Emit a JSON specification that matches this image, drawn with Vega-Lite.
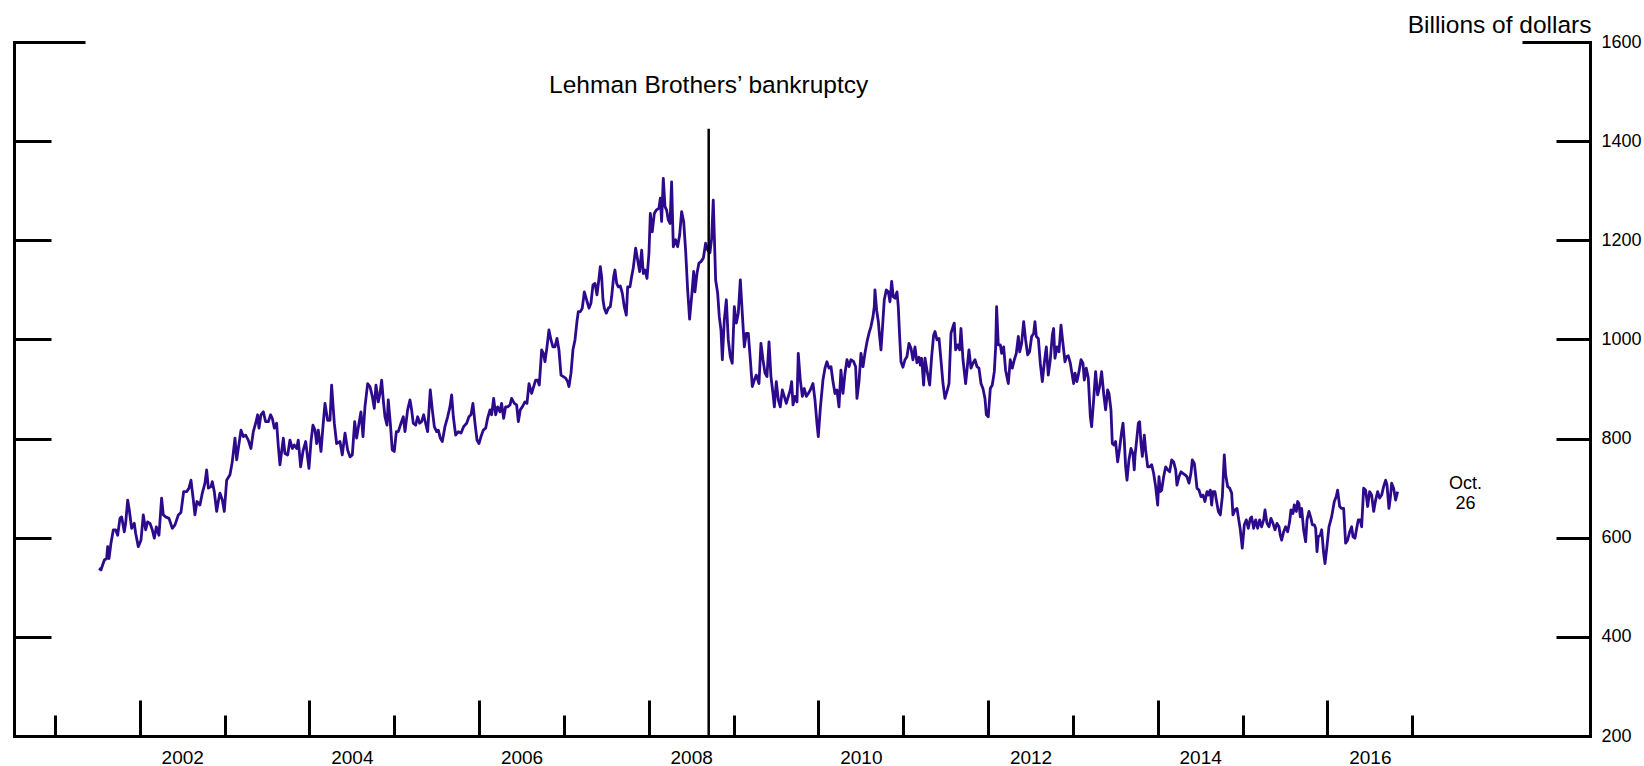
{
"$schema": "https://vega.github.io/schema/vega-lite/v6.json",
"width": 1576, "height": 694,
"autosize": {"type": "none"},
"padding": {"left": 14, "top": 42, "right": 54, "bottom": 30},
"background": "white",
"config": {"view": {"stroke": null}, "axis": {"grid": false}},
"datasets": {
"series": [
{"year":2001.519,"value":538},{"year":2001.542,"value":535},{"year":2001.582,"value":555},{"year":2001.609,"value":558},{"year":2001.621,"value":582},{"year":2001.637,"value":558},{"year":2001.660,"value":589},{"year":2001.688,"value":616},{"year":2001.715,"value":616},{"year":2001.739,"value":605},{"year":2001.766,"value":639},{"year":2001.786,"value":642},{"year":2001.817,"value":612},{"year":2001.833,"value":629},{"year":2001.857,"value":676},{"year":2001.876,"value":656},{"year":2001.904,"value":619},{"year":2001.935,"value":629},{"year":2001.951,"value":609},{"year":2001.982,"value":582},
{"year":2002.014,"value":595},{"year":2002.041,"value":646},{"year":2002.069,"value":616},{"year":2002.092,"value":632},{"year":2002.120,"value":629},{"year":2002.147,"value":616},{"year":2002.171,"value":599},{"year":2002.195,"value":622},{"year":2002.226,"value":605},{"year":2002.257,"value":680},{"year":2002.277,"value":646},{"year":2002.305,"value":642},{"year":2002.344,"value":639},{"year":2002.383,"value":619},{"year":2002.415,"value":626},{"year":2002.454,"value":646},{"year":2002.485,"value":651},{"year":2002.517,"value":693},{"year":2002.552,"value":693},{"year":2002.580,"value":700},{"year":2002.603,"value":716},{"year":2002.631,"value":676},{"year":2002.650,"value":646},{"year":2002.674,"value":673},{"year":2002.709,"value":666},{"year":2002.737,"value":690},{"year":2002.768,"value":710},{"year":2002.788,"value":737},{"year":2002.808,"value":700},{"year":2002.839,"value":703},{"year":2002.855,"value":713},{"year":2002.878,"value":693},{"year":2002.906,"value":653},{"year":2002.925,"value":673},{"year":2002.945,"value":690},{"year":2002.973,"value":676},{"year":2002.996,"value":653},
{"year":2003.024,"value":716},{"year":2003.063,"value":727},{"year":2003.090,"value":753},{"year":2003.122,"value":801},{"year":2003.142,"value":757},{"year":2003.161,"value":780},{"year":2003.193,"value":817},{"year":2003.220,"value":804},{"year":2003.248,"value":807},{"year":2003.279,"value":797},{"year":2003.310,"value":780},{"year":2003.338,"value":814},{"year":2003.366,"value":831},{"year":2003.389,"value":848},{"year":2003.405,"value":821},{"year":2003.428,"value":848},{"year":2003.456,"value":854},{"year":2003.483,"value":834},{"year":2003.515,"value":834},{"year":2003.542,"value":848},{"year":2003.562,"value":841},{"year":2003.586,"value":821},{"year":2003.613,"value":831},{"year":2003.633,"value":784},{"year":2003.652,"value":747},{"year":2003.672,"value":774},{"year":2003.692,"value":801},{"year":2003.711,"value":770},{"year":2003.743,"value":767},{"year":2003.770,"value":797},{"year":2003.798,"value":780},{"year":2003.821,"value":787},{"year":2003.849,"value":780},{"year":2003.868,"value":797},{"year":2003.896,"value":743},{"year":2003.923,"value":774},{"year":2003.955,"value":794},{"year":2003.994,"value":740},
{"year":2004.018,"value":794},{"year":2004.041,"value":827},{"year":2004.065,"value":817},{"year":2004.085,"value":790},{"year":2004.104,"value":817},{"year":2004.136,"value":774},{"year":2004.159,"value":824},{"year":2004.183,"value":871},{"year":2004.214,"value":837},{"year":2004.242,"value":837},{"year":2004.261,"value":908},{"year":2004.293,"value":831},{"year":2004.320,"value":790},{"year":2004.360,"value":794},{"year":2004.387,"value":767},{"year":2004.419,"value":811},{"year":2004.450,"value":777},{"year":2004.478,"value":763},{"year":2004.505,"value":767},{"year":2004.533,"value":834},{"year":2004.556,"value":801},{"year":2004.584,"value":831},{"year":2004.607,"value":854},{"year":2004.631,"value":804},{"year":2004.654,"value":864},{"year":2004.686,"value":911},{"year":2004.713,"value":905},{"year":2004.741,"value":885},{"year":2004.764,"value":861},{"year":2004.784,"value":908},{"year":2004.811,"value":874},{"year":2004.831,"value":891},{"year":2004.851,"value":918},{"year":2004.870,"value":878},{"year":2004.890,"value":844},{"year":2004.914,"value":827},{"year":2004.929,"value":878},{"year":2004.953,"value":831},{"year":2004.976,"value":777},
{"year":2005.000,"value":774},{"year":2005.024,"value":814},{"year":2005.047,"value":814},{"year":2005.079,"value":831},{"year":2005.106,"value":844},{"year":2005.126,"value":814},{"year":2005.157,"value":858},{"year":2005.185,"value":878},{"year":2005.204,"value":858},{"year":2005.224,"value":831},{"year":2005.252,"value":827},{"year":2005.275,"value":844},{"year":2005.299,"value":831},{"year":2005.322,"value":834},{"year":2005.346,"value":848},{"year":2005.369,"value":831},{"year":2005.393,"value":814},{"year":2005.424,"value":898},{"year":2005.448,"value":858},{"year":2005.472,"value":824},{"year":2005.499,"value":814},{"year":2005.519,"value":817},{"year":2005.542,"value":801},{"year":2005.566,"value":794},{"year":2005.597,"value":824},{"year":2005.629,"value":844},{"year":2005.656,"value":864},{"year":2005.676,"value":888},{"year":2005.696,"value":844},{"year":2005.723,"value":807},{"year":2005.755,"value":814},{"year":2005.786,"value":811},{"year":2005.817,"value":824},{"year":2005.853,"value":831},{"year":2005.880,"value":844},{"year":2005.904,"value":848},{"year":2005.927,"value":871},{"year":2005.951,"value":831},{"year":2005.975,"value":797},{"year":2005.998,"value":790},
{"year":2006.022,"value":804},{"year":2006.049,"value":817},{"year":2006.077,"value":821},{"year":2006.100,"value":841},{"year":2006.128,"value":858},{"year":2006.147,"value":848},{"year":2006.171,"value":881},{"year":2006.195,"value":848},{"year":2006.218,"value":864},{"year":2006.246,"value":854},{"year":2006.265,"value":871},{"year":2006.289,"value":841},{"year":2006.312,"value":864},{"year":2006.336,"value":864},{"year":2006.364,"value":868},{"year":2006.383,"value":881},{"year":2006.415,"value":871},{"year":2006.442,"value":868},{"year":2006.462,"value":834},{"year":2006.485,"value":858},{"year":2006.509,"value":864},{"year":2006.540,"value":874},{"year":2006.564,"value":871},{"year":2006.588,"value":911},{"year":2006.619,"value":891},{"year":2006.643,"value":905},{"year":2006.666,"value":918},{"year":2006.690,"value":918},{"year":2006.709,"value":908},{"year":2006.737,"value":979},{"year":2006.757,"value":972},{"year":2006.776,"value":955},{"year":2006.800,"value":985},{"year":2006.823,"value":1019},{"year":2006.847,"value":999},{"year":2006.870,"value":985},{"year":2006.894,"value":985},{"year":2006.918,"value":1002},{"year":2006.941,"value":979},{"year":2006.965,"value":928},{"year":2006.992,"value":925},
{"year":2007.020,"value":922},{"year":2007.043,"value":915},{"year":2007.059,"value":905},{"year":2007.083,"value":932},{"year":2007.106,"value":979},{"year":2007.130,"value":999},{"year":2007.153,"value":1036},{"year":2007.169,"value":1056},{"year":2007.193,"value":1056},{"year":2007.216,"value":1063},{"year":2007.240,"value":1096},{"year":2007.267,"value":1080},{"year":2007.295,"value":1063},{"year":2007.318,"value":1073},{"year":2007.342,"value":1110},{"year":2007.366,"value":1113},{"year":2007.389,"value":1090},{"year":2007.413,"value":1123},{"year":2007.428,"value":1147},{"year":2007.444,"value":1127},{"year":2007.460,"value":1080},{"year":2007.476,"value":1063},{"year":2007.499,"value":1053},{"year":2007.523,"value":1063},{"year":2007.546,"value":1066},{"year":2007.562,"value":1086},{"year":2007.586,"value":1127},{"year":2007.601,"value":1140},{"year":2007.621,"value":1113},{"year":2007.641,"value":1106},{"year":2007.664,"value":1108},{"year":2007.688,"value":1093},{"year":2007.711,"value":1066},{"year":2007.735,"value":1049},{"year":2007.751,"value":1106},{"year":2007.778,"value":1106},{"year":2007.798,"value":1127},{"year":2007.817,"value":1144},{"year":2007.845,"value":1184},{"year":2007.869,"value":1160},{"year":2007.892,"value":1137},{"year":2007.916,"value":1180},{"year":2007.935,"value":1133},{"year":2007.955,"value":1140},{"year":2007.979,"value":1123},
{"year":2008.002,"value":1174},{"year":2008.018,"value":1254},{"year":2008.041,"value":1217},{"year":2008.065,"value":1254},{"year":2008.089,"value":1261},{"year":2008.120,"value":1265},{"year":2008.136,"value":1285},{"year":2008.151,"value":1238},{"year":2008.171,"value":1325},{"year":2008.191,"value":1268},{"year":2008.210,"value":1261},{"year":2008.230,"value":1241},{"year":2008.250,"value":1234},{"year":2008.269,"value":1318},{"year":2008.289,"value":1187},{"year":2008.316,"value":1201},{"year":2008.340,"value":1187},{"year":2008.364,"value":1211},{"year":2008.387,"value":1258},{"year":2008.411,"value":1238},{"year":2008.434,"value":1180},{"year":2008.458,"value":1100},{"year":2008.481,"value":1041},{"year":2008.505,"value":1086},{"year":2008.529,"value":1137},{"year":2008.544,"value":1096},{"year":2008.568,"value":1133},{"year":2008.591,"value":1154},{"year":2008.615,"value":1157},{"year":2008.643,"value":1164},{"year":2008.670,"value":1194},{"year":2008.694,"value":1180},{"year":2008.721,"value":1175},{"year":2008.741,"value":1204},{"year":2008.760,"value":1281},{"year":2008.788,"value":1120},{"year":2008.812,"value":1093},{"year":2008.831,"value":1046},{"year":2008.851,"value":1019},{"year":2008.867,"value":959},{"year":2008.890,"value":1039},{"year":2008.914,"value":1080},{"year":2008.937,"value":999},{"year":2008.961,"value":965},{"year":2008.984,"value":952},
{"year":2009.008,"value":1066},{"year":2009.032,"value":1033},{"year":2009.055,"value":1053},{"year":2009.079,"value":1120},{"year":2009.102,"value":1053},{"year":2009.126,"value":985},{"year":2009.149,"value":1012},{"year":2009.173,"value":1012},{"year":2009.197,"value":959},{"year":2009.220,"value":905},{"year":2009.244,"value":918},{"year":2009.267,"value":928},{"year":2009.299,"value":911},{"year":2009.322,"value":992},{"year":2009.346,"value":959},{"year":2009.370,"value":932},{"year":2009.393,"value":925},{"year":2009.417,"value":995},{"year":2009.440,"value":925},{"year":2009.464,"value":891},{"year":2009.480,"value":864},{"year":2009.503,"value":915},{"year":2009.527,"value":878},{"year":2009.550,"value":864},{"year":2009.574,"value":898},{"year":2009.597,"value":885},{"year":2009.621,"value":871},{"year":2009.645,"value":885},{"year":2009.668,"value":898},{"year":2009.684,"value":915},{"year":2009.700,"value":868},{"year":2009.723,"value":885},{"year":2009.747,"value":874},{"year":2009.762,"value":972},{"year":2009.786,"value":918},{"year":2009.810,"value":885},{"year":2009.833,"value":901},{"year":2009.857,"value":885},{"year":2009.880,"value":891},{"year":2009.904,"value":898},{"year":2009.935,"value":911},{"year":2009.959,"value":878},{"year":2009.982,"value":831},{"year":2009.998,"value":804},
{"year":2010.022,"value":861},{"year":2010.053,"value":918},{"year":2010.077,"value":942},{"year":2010.100,"value":955},{"year":2010.124,"value":942},{"year":2010.148,"value":945},{"year":2010.171,"value":915},{"year":2010.195,"value":891},{"year":2010.218,"value":898},{"year":2010.242,"value":864},{"year":2010.265,"value":938},{"year":2010.289,"value":891},{"year":2010.313,"value":932},{"year":2010.336,"value":959},{"year":2010.360,"value":945},{"year":2010.383,"value":959},{"year":2010.415,"value":955},{"year":2010.438,"value":945},{"year":2010.454,"value":881},{"year":2010.478,"value":915},{"year":2010.501,"value":972},{"year":2010.525,"value":945},{"year":2010.548,"value":972},{"year":2010.572,"value":995},{"year":2010.595,"value":1012},{"year":2010.619,"value":1026},{"year":2010.643,"value":1046},{"year":2010.658,"value":1066},{"year":2010.666,"value":1100},{"year":2010.686,"value":1059},{"year":2010.706,"value":1036},{"year":2010.721,"value":1006},{"year":2010.737,"value":979},{"year":2010.753,"value":1019},{"year":2010.776,"value":1080},{"year":2010.800,"value":1100},{"year":2010.823,"value":1096},{"year":2010.843,"value":1076},{"year":2010.863,"value":1117},{"year":2010.882,"value":1086},{"year":2010.902,"value":1083},{"year":2010.926,"value":1096},{"year":2010.941,"value":1066},{"year":2010.957,"value":1006},{"year":2010.973,"value":955},{"year":2010.996,"value":944},
{"year":2011.020,"value":959},{"year":2011.043,"value":965},{"year":2011.067,"value":992},{"year":2011.091,"value":982},{"year":2011.114,"value":959},{"year":2011.138,"value":985},{"year":2011.161,"value":953},{"year":2011.185,"value":964},{"year":2011.201,"value":948},{"year":2011.216,"value":962},{"year":2011.240,"value":908},{"year":2011.256,"value":962},{"year":2011.279,"value":938},{"year":2011.311,"value":908},{"year":2011.334,"value":965},{"year":2011.358,"value":1009},{"year":2011.374,"value":1016},{"year":2011.397,"value":999},{"year":2011.421,"value":1002},{"year":2011.444,"value":959},{"year":2011.468,"value":911},{"year":2011.491,"value":881},{"year":2011.515,"value":895},{"year":2011.539,"value":911},{"year":2011.562,"value":1012},{"year":2011.586,"value":1026},{"year":2011.601,"value":1033},{"year":2011.617,"value":979},{"year":2011.641,"value":989},{"year":2011.664,"value":979},{"year":2011.680,"value":1022},{"year":2011.704,"value":959},{"year":2011.735,"value":911},{"year":2011.759,"value":952},{"year":2011.774,"value":979},{"year":2011.798,"value":942},{"year":2011.821,"value":952},{"year":2011.845,"value":959},{"year":2011.869,"value":945},{"year":2011.892,"value":942},{"year":2011.916,"value":911},{"year":2011.939,"value":901},{"year":2011.963,"value":881},{"year":2011.979,"value":848},
{"year":2012.002,"value":844},{"year":2012.026,"value":901},{"year":2012.049,"value":908},{"year":2012.073,"value":935},{"year":2012.089,"value":985},{"year":2012.100,"value":1066},{"year":2012.120,"value":989},{"year":2012.144,"value":989},{"year":2012.159,"value":972},{"year":2012.183,"value":985},{"year":2012.206,"value":938},{"year":2012.238,"value":911},{"year":2012.261,"value":959},{"year":2012.285,"value":942},{"year":2012.309,"value":959},{"year":2012.332,"value":972},{"year":2012.356,"value":1006},{"year":2012.372,"value":975},{"year":2012.395,"value":992},{"year":2012.419,"value":1036},{"year":2012.442,"value":999},{"year":2012.466,"value":969},{"year":2012.489,"value":975},{"year":2012.513,"value":1006},{"year":2012.537,"value":1012},{"year":2012.552,"value":1036},{"year":2012.568,"value":1006},{"year":2012.592,"value":1002},{"year":2012.615,"value":952},{"year":2012.639,"value":915},{"year":2012.662,"value":952},{"year":2012.686,"value":985},{"year":2012.709,"value":928},{"year":2012.733,"value":959},{"year":2012.757,"value":1009},{"year":2012.772,"value":1022},{"year":2012.788,"value":962},{"year":2012.812,"value":985},{"year":2012.835,"value":975},{"year":2012.859,"value":1029},{"year":2012.882,"value":992},{"year":2012.906,"value":955},{"year":2012.922,"value":965},{"year":2012.945,"value":967},{"year":2012.969,"value":952},{"year":2012.985,"value":935},
{"year":2013.008,"value":911},{"year":2013.024,"value":932},{"year":2013.047,"value":915},{"year":2013.071,"value":935},{"year":2013.095,"value":959},{"year":2013.118,"value":952},{"year":2013.134,"value":918},{"year":2013.157,"value":942},{"year":2013.181,"value":922},{"year":2013.205,"value":844},{"year":2013.220,"value":824},{"year":2013.244,"value":878},{"year":2013.267,"value":935},{"year":2013.291,"value":888},{"year":2013.315,"value":905},{"year":2013.338,"value":935},{"year":2013.362,"value":891},{"year":2013.385,"value":858},{"year":2013.409,"value":898},{"year":2013.425,"value":891},{"year":2013.448,"value":858},{"year":2013.464,"value":790},{"year":2013.487,"value":787},{"year":2013.503,"value":794},{"year":2013.527,"value":753},{"year":2013.550,"value":780},{"year":2013.574,"value":814},{"year":2013.590,"value":831},{"year":2013.605,"value":797},{"year":2013.621,"value":743},{"year":2013.637,"value":716},{"year":2013.660,"value":757},{"year":2013.684,"value":780},{"year":2013.707,"value":770},{"year":2013.723,"value":737},{"year":2013.731,"value":764},{"year":2013.751,"value":797},{"year":2013.771,"value":831},{"year":2013.786,"value":834},{"year":2013.802,"value":790},{"year":2013.818,"value":764},{"year":2013.841,"value":807},{"year":2013.857,"value":777},{"year":2013.881,"value":743},{"year":2013.904,"value":743},{"year":2013.928,"value":747},{"year":2013.951,"value":730},{"year":2013.975,"value":703},{"year":2013.999,"value":666},
{"year":2014.014,"value":723},{"year":2014.030,"value":693},{"year":2014.046,"value":696},{"year":2014.069,"value":723},{"year":2014.093,"value":743},{"year":2014.116,"value":737},{"year":2014.140,"value":733},{"year":2014.164,"value":757},{"year":2014.187,"value":753},{"year":2014.211,"value":737},{"year":2014.226,"value":706},{"year":2014.250,"value":723},{"year":2014.274,"value":733},{"year":2014.297,"value":730},{"year":2014.321,"value":727},{"year":2014.344,"value":723},{"year":2014.368,"value":710},{"year":2014.391,"value":730},{"year":2014.407,"value":757},{"year":2014.431,"value":750},{"year":2014.446,"value":727},{"year":2014.462,"value":700},{"year":2014.486,"value":696},{"year":2014.509,"value":683},{"year":2014.533,"value":686},{"year":2014.556,"value":673},{"year":2014.580,"value":693},{"year":2014.596,"value":686},{"year":2014.619,"value":696},{"year":2014.635,"value":666},{"year":2014.651,"value":693},{"year":2014.674,"value":693},{"year":2014.690,"value":676},{"year":2014.714,"value":653},{"year":2014.737,"value":646},{"year":2014.761,"value":683},{"year":2014.784,"value":767},{"year":2014.800,"value":727},{"year":2014.824,"value":703},{"year":2014.847,"value":700},{"year":2014.871,"value":690},{"year":2014.886,"value":646},{"year":2014.910,"value":656},{"year":2014.934,"value":659},{"year":2014.949,"value":642},{"year":2014.973,"value":616},{"year":2014.996,"value":579},
{"year":2015.020,"value":626},{"year":2015.044,"value":636},{"year":2015.067,"value":619},{"year":2015.091,"value":639},{"year":2015.106,"value":642},{"year":2015.130,"value":619},{"year":2015.154,"value":636},{"year":2015.177,"value":619},{"year":2015.201,"value":636},{"year":2015.224,"value":622},{"year":2015.248,"value":636},{"year":2015.264,"value":656},{"year":2015.287,"value":629},{"year":2015.311,"value":622},{"year":2015.334,"value":639},{"year":2015.358,"value":629},{"year":2015.382,"value":616},{"year":2015.405,"value":629},{"year":2015.429,"value":622},{"year":2015.444,"value":605},{"year":2015.460,"value":595},{"year":2015.484,"value":612},{"year":2015.507,"value":622},{"year":2015.531,"value":612},{"year":2015.554,"value":632},{"year":2015.570,"value":656},{"year":2015.594,"value":649},{"year":2015.609,"value":666},{"year":2015.633,"value":653},{"year":2015.649,"value":673},{"year":2015.664,"value":669},{"year":2015.680,"value":642},{"year":2015.696,"value":659},{"year":2015.719,"value":616},{"year":2015.743,"value":592},{"year":2015.759,"value":636},{"year":2015.782,"value":653},{"year":2015.806,"value":639},{"year":2015.822,"value":626},{"year":2015.845,"value":626},{"year":2015.861,"value":619},{"year":2015.877,"value":572},{"year":2015.892,"value":602},{"year":2015.916,"value":605},{"year":2015.932,"value":616},{"year":2015.955,"value":569},{"year":2015.971,"value":548},{"year":2015.994,"value":582},
{"year":2016.018,"value":622},{"year":2016.049,"value":642},{"year":2016.081,"value":673},{"year":2016.104,"value":683},{"year":2016.120,"value":696},{"year":2016.144,"value":663},{"year":2016.167,"value":659},{"year":2016.191,"value":659},{"year":2016.214,"value":589},{"year":2016.238,"value":595},{"year":2016.262,"value":612},{"year":2016.285,"value":622},{"year":2016.301,"value":602},{"year":2016.324,"value":599},{"year":2016.348,"value":622},{"year":2016.364,"value":636},{"year":2016.387,"value":636},{"year":2016.403,"value":622},{"year":2016.427,"value":700},{"year":2016.450,"value":696},{"year":2016.474,"value":663},{"year":2016.497,"value":693},{"year":2016.521,"value":686},{"year":2016.545,"value":653},{"year":2016.568,"value":676},{"year":2016.592,"value":693},{"year":2016.615,"value":680},{"year":2016.639,"value":686},{"year":2016.662,"value":703},{"year":2016.686,"value":716},{"year":2016.702,"value":706},{"year":2016.725,"value":659},{"year":2016.741,"value":680},{"year":2016.757,"value":710},{"year":2016.780,"value":700},{"year":2016.804,"value":676},{"year":2016.827,"value":693}
],
"lehman": [{"year": 2008.706, "value": 200, "top": 1425}],
"lehmanLabel": [{"year": 2008.706, "value": 1497, "label": "Lehman Brothers’ bankruptcy"}],
"lastLabel": [{"year": 2017.628, "value": 698, "label": "Oct.\n26"}]
},
"resolve": {"axis": {"x": "independent", "y": "independent"}},
"layer": [
{
"data": {"name": "series"},
"mark": {"type": "line", "color": "#2d0a8c", "strokeWidth": 2.8, "strokeJoin": "round"},
"encoding": {
"x": {"field": "year", "type": "quantitative", "scale": {"domain": [2000.517, 2019.095], "nice": false, "zero": false},
"axis": {"orient": "bottom", "values": [2002, 2004, 2006, 2008, 2010, 2012, 2014, 2016], "ticks": true, "tickSize": -36, "tickWidth": 3, "tickColor": "black", "domain": true, "domainWidth": 3, "domainColor": "black", "domainCap": "square", "grid": false, "labels": true, "format": "d", "labelOffset": 42.4, "labelPadding": 48, "labelBaseline": "top", "labelFont": "Liberation Sans", "labelFontSize": 19, "labelColor": "black", "labelFlush": false, "labelOverlap": false, "title": null}},
"y": {"field": "value", "type": "quantitative", "scale": {"domain": [200, 1600], "nice": false, "zero": false},
"axis": {"orient": "left", "values": [200, 400, 600, 800, 1000, 1200, 1400], "ticks": true, "tickSize": -37, "tickWidth": 3, "tickColor": "black", "domain": true, "domainWidth": 3, "domainColor": "black", "domainCap": "square", "grid": false, "labels": false, "title": null}}
}
},
{
"data": {"name": "lehman"},
"mark": {"type": "rule", "color": "black", "strokeWidth": 2.5},
"encoding": {
"x": {"field": "year", "type": "quantitative", "scale": {"domain": [2000.517, 2019.095], "nice": false, "zero": false},
"axis": {"orient": "bottom", "values": [2001, 2003, 2005, 2007, 2009, 2011, 2013, 2015, 2017], "ticks": true, "tickSize": -21, "tickWidth": 3, "tickColor": "black", "domain": false, "grid": false, "labels": false, "title": null}},
"y": {"field": "value", "type": "quantitative", "scale": {"domain": [200, 1600], "nice": false, "zero": false},
"axis": {"orient": "left", "values": [1600], "ticks": true, "tickSize": -71, "tickWidth": 3, "tickColor": "black", "domain": false, "grid": false, "labels": false, "title": null}},
"y2": {"field": "top"}
}
},
{
"data": {"name": "lehmanLabel"},
"mark": {"type": "text", "font": "Liberation Sans", "fontSize": 24.5, "align": "center", "baseline": "alphabetic", "color": "black"},
"encoding": {
"x": {"field": "year", "type": "quantitative", "scale": {"domain": [2000.517, 2019.095], "nice": false, "zero": false}, "axis": null},
"y": {"field": "value", "type": "quantitative", "scale": {"domain": [200, 1600], "nice": false, "zero": false},
"axis": {"orient": "right", "values": [200, 400, 600, 800, 1000, 1200, 1400, 1600], "ticks": true, "tickSize": -34, "tickWidth": 3, "tickColor": "black", "domain": true, "domainWidth": 3, "domainColor": "black", "domainCap": "square", "grid": false, "labels": true, "format": "d", "labelPadding": 45, "labelFont": "Liberation Sans", "labelFontSize": 18, "labelColor": "black", "labelFlush": false, "labelOverlap": false,
"title": "Billions of dollars", "titleAngle": 0, "titleX": 1, "titleY": -10, "titleAlign": "right", "titleBaseline": "alphabetic", "titleFont": "Liberation Sans", "titleFontSize": 24.5, "titleFontWeight": "normal", "titleColor": "black"}},
"text": {"field": "label"}
}
},
{
"data": {"name": "lastLabel"},
"mark": {"type": "text", "font": "Liberation Sans", "fontSize": 18, "align": "center", "baseline": "alphabetic", "lineBreak": "\n", "lineHeight": 20, "color": "black"},
"encoding": {
"x": {"field": "year", "type": "quantitative", "scale": {"domain": [2000.517, 2019.095], "nice": false, "zero": false}, "axis": null},
"y": {"field": "value", "type": "quantitative", "scale": {"domain": [200, 1600], "nice": false, "zero": false},
"axis": {"orient": "right", "values": [1600], "ticks": true, "tickSize": -68, "tickWidth": 3, "tickColor": "black", "domain": false, "grid": false, "labels": false, "title": null}},
"text": {"field": "label"}
}
}
]
}
